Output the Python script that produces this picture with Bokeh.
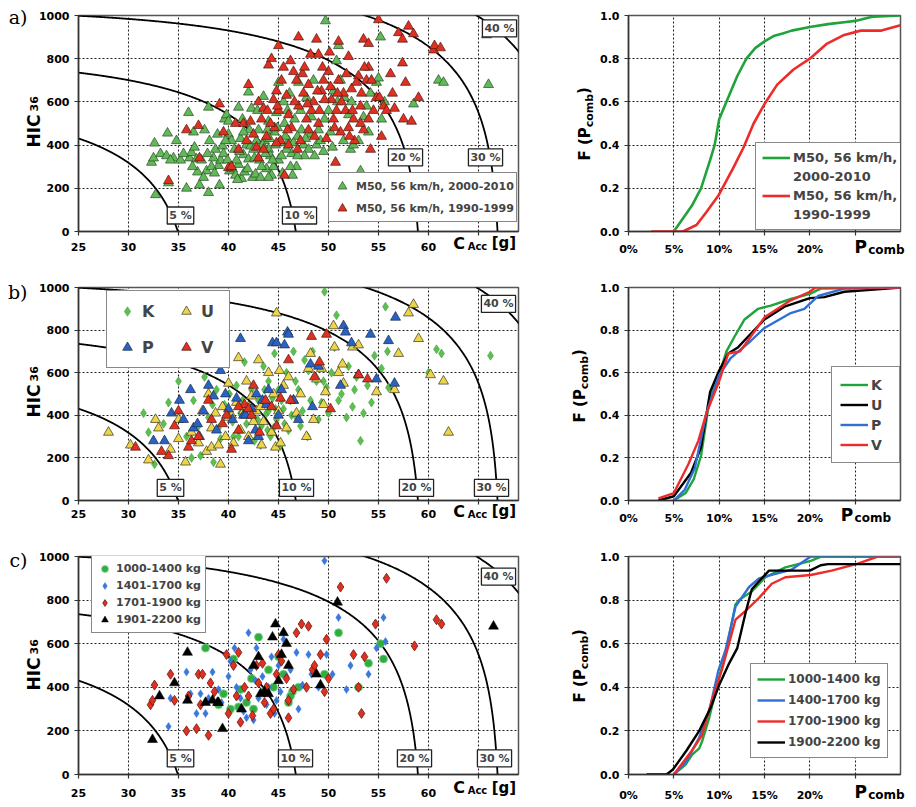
import math
import numpy as np
from bokeh.plotting import figure
from bokeh.layouts import column, row
from bokeh.models import Legend, LegendItem, FixedTicker, Range1d, NumeralTickFormatter, LinearAxis, Label
from bokeh.embed import file_html
from bokeh.resources import INLINE

FONT = "DejaVu Sans"

# ---------------- iso-risk model (combined head/chest risk) ----------------
CHEST_A, CHEST_B = 5.484, 0.069
HEAD_A, HEAD_B = 5.103, 0.0036
ISO_LEVELS = [0.05, 0.10, 0.20, 0.30, 0.40]
ISO_LABELS = ["5 %", "10 %", "20 %", "30 %", "40 %"]
ISO_LABEL_POS_A = [(35.2, 74), (47.1, 74), (57.7, 343), (65.7, 343), (67.1, 940)]
ISO_LABEL_POS_B = [(34.2, 59), (46.8, 59), (58.8, 59), (66.3, 59), (67.0, 923)]
ISO_LABEL_POS_C = [(35.2, 74), (46.7, 74), (58.6, 74), (66.6, 74), (67.0, 908)]

# ---------------- panel a: scatter ----------------
A_2000_2010 = [(32.6,409),(32.3,320),(32.5,340),(33.2,360),(33.8,350),(34.5,340),(33.9,455),(34.8,420),
    (32.7,170),(34.0,225),(35.8,200),(36.0,550),(36.1,340),(36.3,365),(36.8,335),(36.9,275),(37.1,215),
    (37.6,470),(38.0,575),(37.8,280),(38.1,420),(38.0,180),(38.7,380),(39.0,305),(39.1,215),(39.2,330),
    (39.6,520),(39.8,540),(40.0,510),(40.0,450),(40.1,280),(40.4,290),(40.6,380),(41.0,575),(41.0,310),
    (41.3,245),(41.5,355),(41.8,400),(42.0,335),(42.0,645),(42.3,570),(42.4,250),(42.7,265),(42.8,420),
    (43.0,470),(43.1,330),(43.5,625),(43.6,420),(43.8,290),(44.0,510),(44.0,380),(44.3,260),(44.5,300),
    (44.6,460),(44.8,550),(45.0,690),(45.0,330),(45.2,410),(45.4,270),(45.5,600),(45.6,500),(46.0,420),
    (46.1,640),(46.3,360),(46.6,520),(46.8,300),(47.0,690),(47.3,470),(47.5,400),(47.8,620),(48.0,380),
    (48.2,450),(48.5,700),(48.8,400),(49.0,470),(49.5,370),(49.7,975),(50.0,560),(50.2,460),(50.5,650),
    (50.8,790),(51.0,860),(51.2,700),(51.5,420),(52.0,540),(52.2,380),(52.5,400),(53.0,420),(53.2,280),
    (53.5,530),(54.0,460),(54.2,640),(54.8,690),(55.0,710),(55.2,900),(55.6,600),(55.3,520),(58.5,590),
    (61.0,700),(61.5,690),(66.0,680),(38.5,340),(39.4,395),(40.8,330),(41.6,275),(42.2,395),(43.3,300),
    (44.2,350),(45.8,380),(46.9,440),(47.6,350),(41.2,430),(37.3,330),(35.2,330),(36.5,460),
    (36.6,390),(37.9,360),(38.3,300),(38.9,450),(39.5,360),(39.9,330),(40.3,420),(40.7,260),(41.1,370),
    (41.4,520),(41.9,290),(42.1,470),(42.6,340),(42.9,560),(43.2,250),(43.4,400),(43.7,360),(44.1,430),
    (44.4,330),(44.9,480),(45.3,350),(45.7,440),(46.2,300),(46.5,410),(46.9,350),(47.2,560),(47.7,430),
    (48.3,530),(48.6,350),(49.2,420),(49.6,520),(50.4,390),(50.9,600),(51.6,620),(52.3,600),(53.8,580),
    (42.5,380),(43.9,470),(45.9,560),(44.7,400),(41.5,460),(39.7,420),(38.6,270),(36.4,300),(34.2,330),
    (35.5,360),(37.5,250),(40.9,240),(44.0,250),(46.4,260)]
A_1990_1999 = [(34.0,235),(35.8,470),(37.0,490),(37.1,340),(39.1,590),(39.5,460),(40.0,295),(40.3,300),
    (40.7,500),(41.5,500),(41.8,420),(42.0,680),(42.5,450),(42.8,390),(43.0,600),(43.3,520),(43.5,570),
    (43.8,440),(44.0,770),(44.3,800),(44.5,610),(44.6,480),(44.8,650),(45.0,860),(45.0,560),(45.2,420),
    (45.5,760),(45.6,260),(45.8,630),(46.0,540),(46.3,480),(46.5,740),(46.8,700),(47.0,900),(47.0,580),
    (47.2,420),(47.5,640),(47.8,520),(48.0,680),(48.2,820),(48.3,560),(48.5,600),(48.8,890),(49.0,820),
    (49.0,500),(49.3,650),(49.5,700),(49.8,430),(50.0,740),(50.1,830),(50.3,610),(50.5,520),(50.7,320),
    (51.0,880),(51.0,700),(51.2,460),(51.5,640),(51.7,560),(52.0,810),(52.0,480),(52.3,660),(52.6,420),
    (53.0,720),(53.2,580),(53.5,890),(53.8,700),(54.0,870),(54.0,760),(54.0,520),(54.2,380),(54.5,560),
    (54.8,620),(55.0,980),(55.3,440),(55.5,580),(56.4,640),(56.6,570),(57.0,920),(57.4,890),(57.4,780),
    (57.7,690),(57.5,520),(58.0,950),(58.3,510),(58.5,915),(59.0,620),(60.5,840),(60.6,860),(61.2,850),
    (65.8,910),(43.5,380),(44.2,500),(46.0,400),(48.0,470),(50.8,560),(52.5,520),(53.5,470),
    (41.0,380),(42.2,510),(43.0,340),(43.9,560),(44.8,410),(45.3,700),(45.9,470),(46.6,600),(46.9,380),
    (47.4,730),(47.9,590),(48.6,440),(49.1,560),(49.6,610),(50.2,670),(50.6,480),(51.3,600),(51.8,730),
    (52.4,560),(52.8,690),(53.3,640),(53.6,760),(54.3,700),(55.1,620),(55.8,560),(56.2,730),(49.4,760),
    (47.6,760),(46.2,790),(44.9,580),(48.9,650),(50.9,640),(52.1,440),(53.2,500)]

# ---------------- panel b: scatter ----------------
B_K = [(31.5,410),(32.0,320),(32.6,170),(33.5,360),(34.0,460),(35.0,560),(36.3,200),(36.5,470),(37.2,210),
    (37.6,580),(38.0,390),(38.5,180),(38.8,520),(39.2,290),(39.6,450),(40.1,500),(40.5,300),(40.8,540),
    (41.2,410),(41.6,650),(41.8,360),(42.0,440),(42.3,520),(42.6,280),(43.0,470),(43.3,350),(43.5,630),
    (43.8,410),(44.0,560),(44.2,300),(44.4,480),(44.6,690),(44.8,380),(45.0,520),(45.2,260),(45.5,430),
    (45.8,600),(46.0,330),(46.2,470),(46.5,700),(46.8,390),(47.0,520),(47.4,420),(47.6,660),(47.9,300),
    (48.2,470),(48.4,700),(48.8,560),(49.0,380),(49.3,460),(49.6,980),(49.8,530),(50.3,600),(50.6,720),
    (50.8,870),(51.3,500),(51.8,390),(52.0,630),(52.4,440),(52.8,580),(53.2,280),(53.5,410),(53.9,540),
    (54.3,460),(54.6,680),(55.3,620),(55.7,910),(55.9,700),(56.0,530),(60.0,600),(60.8,710),(61.3,690),
    (66.2,680),(44.0,420),(42.4,390),(41.4,470),(43.9,330),(46.7,560),(45.6,360),(40.4,370),(39.0,340),
    (48.0,610),(50.0,410),(51.0,470),(41.0,300),(42.9,380),(44.5,340),(45.3,470),(46.3,400),(43.6,520),
    (40.0,420),(38.4,450),(47.2,350),(49.5,560),(52.6,520),(37.0,350),(35.8,300),(43.2,260),(44.7,430)]
B_U = [(28.0,320),(30.2,260),(32.0,190),(32.7,380),(33.0,340),(34.2,240),(35.0,290),(35.0,380),(35.7,180),
    (36.3,320),(37.0,270),(37.4,420),(37.8,230),(38.0,500),(38.3,250),(38.7,410),(39.0,260),(39.2,170),
    (39.4,440),(39.7,300),(40.0,550),(40.3,400),(40.5,270),(40.8,460),(41.0,670),(41.2,330),(41.5,420),
    (41.8,560),(42.0,300),(42.3,490),(42.5,370),(42.8,420),(43.0,660),(43.3,260),(43.5,370),(43.8,460),
    (44.0,600),(44.3,320),(44.5,500),(44.7,250),(44.8,880),(45.0,420),(45.1,610),(45.2,270),(45.5,540),
    (45.8,340),(46.0,580),(46.5,470),(46.8,410),(47.2,500),(47.8,300),(48.0,620),(48.2,690),(48.5,380),
    (48.8,570),(49.3,620),(49.5,450),(49.7,510),(50.5,820),(50.6,720),(51.0,600),(51.4,640),(51.5,550),
    (52.4,720),(53.0,730),(54.8,510),(56.6,520),(57.0,690),(58.0,880),(58.5,920),(59.0,760),(60.2,590),
    (61.5,560),(62.0,320),(42.0,440),(43.2,440),(40.0,390),(38.3,340)]
B_P = [(32.5,280),(33.6,280),(34.3,410),(35.1,470),(35.5,380),(36.2,520),(36.5,340),(36.9,360),(37.1,300),
    (37.5,420),(38.0,540),(38.5,490),(38.8,330),(39.2,610),(39.7,500),(40.0,430),(40.4,380),(40.8,480),
    (41.2,760),(41.5,400),(42.0,280),(42.3,430),(42.8,500),(43.0,300),(43.4,470),(43.8,450),(44.0,520),
    (44.4,740),(44.8,740),(45.0,400),(45.3,520),(45.6,730),(45.9,790),(46.0,780),(46.5,470),(47.0,380),
    (48.2,640),(48.4,440),(49.0,630),(51.2,540),(51.5,820),(51.7,790),(52.3,740),(53.0,590),(54.2,780),
    (54.8,570),(56.0,750),(56.6,550),(56.7,860),(41.7,400),(42.7,330)]
B_V = [(30.7,250),(33.3,230),(34.0,210),(34.6,350),(35.0,420),(36.0,250),(36.3,280),(37.0,300),(38.0,470),
    (38.3,380),(39.0,640),(39.4,360),(40.3,240),(41.0,330),(41.6,450),(42.0,430),(42.3,400),(42.5,540),
    (43.1,320),(43.7,470),(44.3,440),(44.8,350),(45.2,480),(46.0,660),(46.2,470),(48.3,770),(48.6,580),
    (49.1,650),(49.8,780),(50.2,430),(53.0,590),(53.9,570),(41.0,440),(39.8,400)]

# ---------------- panel c: scatter ----------------
C_1000_1400 = [(37.7,580),(39.0,320),(39.5,370),(40.2,300),(40.5,530),(41.2,390),(41.8,330),(42.3,440),
    (42.5,300),(43.0,630),(43.5,380),(44.0,480),(44.5,400),(45.0,540),(45.5,460),(46.0,330),(46.4,380),
    (46.2,360),(47.0,400),(49.6,460),(51.0,650),(53.0,400),(54.0,510),(55.5,530),(55.2,600),(41.0,310)]
C_1401_1700 = [(34.0,220),(34.2,350),(35.8,470),(36.2,370),(36.8,280),(37.2,370),(37.7,280),(38.0,350),
    (39.0,390),(39.3,330),(40.0,450),(40.2,520),(40.6,580),(40.8,400),(41.2,350),(41.5,290),(41.8,260),
    (42.0,650),(42.2,480),(42.5,250),(42.8,580),(43.0,350),(43.4,450),(43.8,320),(44.0,400),(44.3,540),
    (44.6,280),(45.0,500),(45.2,380),(45.5,620),(45.8,450),(46.2,480),(46.8,560),(47.0,300),(47.4,410),
    (48.0,550),(48.3,460),(49.0,400),(49.6,980),(49.8,550),(50.4,460),(51.0,720),(51.8,390),(52.2,500),
    (54.0,460),(55.5,720),(54.8,580),(55.7,610),(42.7,430),(44.8,340),(38.4,470)]
C_1701_1900 = [(32.2,320),(32.4,340),(32.6,410),(34.2,460),(34.6,340),(35.8,200),(36.0,360),(36.8,210),
    (37.0,460),(37.4,460),(37.2,320),(38.0,180),(38.2,420),(38.6,380),(39.8,550),(40.0,280),(40.5,500),
    (40.8,360),(41.2,240),(41.6,400),(42.0,360),(42.4,270),(42.8,500),(43.0,420),(43.4,510),(43.8,400),
    (44.2,280),(44.5,300),(44.8,460),(45.0,550),(45.3,520),(45.8,440),(46.0,260),(46.0,340),(46.5,390),
    (46.8,650),(47.3,690),(47.8,400),(48.0,680),(48.4,480),(48.6,500),(49.2,550),(49.6,380),(49.8,620),
    (50.0,440),(51.2,860),(52.5,550),(53.0,400),(53.3,280),(53.6,540),(54.7,690),(55.8,900),(58.6,590),
    (60.8,710),(61.3,690),(41.0,560),(43.6,330)]
C_1901_2200 = [(32.4,160),(33.1,360),(34.6,420),(35.9,560),(35.9,340),(37.7,330),(38.4,340),(38.9,330),
    (39.4,210),(41.3,300),(42.5,500),(43.0,540),(43.2,370),(43.6,380),(44.0,370),(44.4,630),(44.7,690),
    (45.0,430),(45.3,550),(45.5,650),(45.8,600),(46.0,500),(48.8,460),(49.2,410),(50.9,790),(66.5,680),
    (39.0,330)]

# ---------------- CDF curves (P_comb in %, F) ----------------
CDF_A_NEW_X = [5, 6, 7, 8, 9, 9.5, 10, 11, 12, 13, 14, 15, 16, 17, 18, 20, 22, 24, 25, 26, 27, 30]
CDF_A_NEW_Y = [0, 0.06, 0.12, 0.2, 0.33, 0.4, 0.52, 0.62, 0.72, 0.80, 0.85, 0.88, 0.905, 0.917, 0.93,
               0.947, 0.96, 0.97, 0.975, 0.985, 0.995, 1.0]
CDF_A_OLD_X = [2.5, 6, 7.5, 8.6, 9.9, 11.5, 12.7, 13.8, 15, 16.4, 18.2, 20, 21.9, 23.8, 25.6, 27.9, 30]
CDF_A_OLD_Y = [0, 0, 0.03, 0.09, 0.165, 0.29, 0.39, 0.5, 0.59, 0.68, 0.75, 0.80, 0.87, 0.91, 0.93, 0.93, 0.955]

CDF_B_K_X = [5, 6.3, 7.2, 8.0, 8.96, 10, 10.8, 11.7, 12.8, 14.3, 15.7, 17.9, 20, 21.2, 30]
CDF_B_K_Y = [0, 0.035, 0.1, 0.21, 0.48, 0.59, 0.70, 0.77, 0.85, 0.90, 0.915, 0.946, 0.97, 0.995, 1.0]
CDF_B_U_X = [3.3, 5, 6.9, 8.0, 9, 10, 11, 12.1, 13.2, 15, 17.2, 20, 21.6, 23.8, 27.1, 30]
CDF_B_U_Y = [0, 0.02, 0.13, 0.25, 0.51, 0.61, 0.69, 0.72, 0.77, 0.85, 0.91, 0.95, 0.955, 0.98, 0.99, 1.0]
CDF_B_P_X = [5, 6.2, 7.3, 8.6, 10, 11.3, 13.5, 15, 17.9, 19.4, 20.9, 23.8, 30]
CDF_B_P_Y = [0, 0.05, 0.15, 0.41, 0.59, 0.67, 0.75, 0.81, 0.88, 0.90, 0.96, 0.995, 1.0]
CDF_B_V_X = [3.3, 5, 6.6, 7.7, 8.6, 10, 11, 12.3, 13.5, 15, 17.9, 20, 20.6, 30]
CDF_B_V_Y = [0.01, 0.035, 0.17, 0.28, 0.41, 0.56, 0.69, 0.70, 0.77, 0.86, 0.94, 0.98, 1.0, 1.0]

CDF_C_1_X = [5, 6.3, 7.0, 7.8, 8.1, 8.9, 9.9, 10.7, 11.8, 12.2, 13.6, 15.1, 17.3, 20.1, 21.3, 30]
CDF_C_1_Y = [0, 0.046, 0.09, 0.12, 0.15, 0.26, 0.43, 0.55, 0.78, 0.80, 0.84, 0.905, 0.95, 0.98, 1.0, 1.0]
CDF_C_2_X = [5, 6.4, 7.8, 8.9, 9.9, 10.7, 11.8, 13.3, 14.4, 16.2, 18, 20.1, 30]
CDF_C_2_Y = [0, 0.06, 0.17, 0.29, 0.475, 0.57, 0.77, 0.86, 0.90, 0.92, 0.94, 1.0, 1.0]
CDF_C_3_X = [5, 7.0, 8.1, 9.2, 10.3, 11.8, 12.9, 14.4, 15.8, 17.3, 20.1, 22.4, 25.3, 27.5, 30]
CDF_C_3_Y = [0, 0.11, 0.18, 0.34, 0.48, 0.71, 0.75, 0.81, 0.875, 0.905, 0.915, 0.935, 0.967, 1.0, 1.0]
CDF_C_4_X = [2.0, 4.2, 4.9, 6.4, 7.8, 9.1, 10, 11.1, 12, 12.9, 13.6, 14.7, 15.5, 18, 20, 21.2, 22, 30]
CDF_C_4_Y = [0, 0, 0.023, 0.11, 0.2, 0.31, 0.41, 0.51, 0.58, 0.74, 0.85, 0.90, 0.935, 0.935, 0.935,
             0.96, 0.965, 0.965]

X_TICKS_L = [25, 30, 35, 40, 45, 50, 55, 60, 65]
Y_TICKS_L = [0, 200, 400, 600, 800, 1000]
X_TICKS_R = [0, 5, 10, 15, 20, 25]
X_TICK_LABELS_R = {0: "0%", 5: "5%", 10: "10%", 15: "15%", 20: "20%", 25: ""}
Y_TICKS_R = [0, 0.2, 0.4, 0.6, 0.8, 1.0]

GREEN_T = "#62b957"
RED_T = "#e0301f"
YELLOW_T = "#ecd54a"
BLUE_T = "#2a62c4"


def EXT(size):
    # side-panel extent Bokeh gives a one-line label (font height + 3px padding)
    return 1.164 * size + 3


def style(p, x_standoff):
    p.background_fill_color = "white"
    p.border_fill_color = "white"
    p.outline_line_color = "#555555"
    p.outline_line_width = 1.5
    for ax in (p.xaxis[0], p.yaxis[0]):
        ax.major_label_text_font = FONT
        ax.major_label_text_font_style = "bold"
        ax.major_label_text_font_size = "11px"
        ax.major_label_text_color = "black"
        ax.axis_line_color = "#333333"
        ax.axis_line_width = 1.5
        ax.major_tick_line_color = "#333333"
        ax.major_tick_line_width = 1.2
        ax.major_tick_out = 4
        ax.major_tick_in = 0
        ax.minor_tick_line_color = None
    p.xaxis[0].major_label_standoff = x_standoff
    p.yaxis[0].major_label_standoff = 5
    for g in (p.xgrid[0], p.ygrid[0]):
        g.grid_line_color = "#222222"
        g.grid_line_dash = "2 2"
        g.grid_line_width = 1.1


def stack_texts(p, side, base, pieces):
    """Label-only axes stacked in a side panel; negative standoffs pull each text back
    to the wanted distance d (px from the frame) so titles sit beside the tick labels."""
    pos = base
    for tick, txt, size, d, orient, font, fstyle, ext in sorted(pieces, key=lambda q: q[3] + q[7]):
        s = int(round(d - pos))
        ax = LinearAxis(ticker=FixedTicker(ticks=[tick]), major_label_overrides={tick: txt},
                        major_label_text_font=font, major_label_text_font_style=fstyle,
                        major_label_text_font_size=f"{size}px", major_label_text_color="black",
                        major_label_standoff=s, major_label_orientation=orient,
                        axis_line_color=None, major_tick_line_color=None, minor_tick_line_color=None,
                        major_tick_out=0, major_tick_in=0)
        p.add_layout(ax, side)
        pos += max(0, round(s + ext))


def iso_curve(P):
    ph0 = 1.0 / (1.0 + math.exp(HEAD_A))
    pc0 = 1.0 - (1.0 - P) / (1.0 - ph0)
    c0 = (CHEST_A + math.log(pc0 / (1.0 - pc0))) / CHEST_B
    cs = np.linspace(25.0, c0, 400)
    pc = 1.0 / (1.0 + np.exp(CHEST_A - CHEST_B * cs))
    ph = 1.0 - (1.0 - P) / (1.0 - pc)
    ph = np.clip(ph, ph0, 0.999999)
    hic = (HEAD_A + np.log(ph / (1.0 - ph))) / HEAD_B
    return cs, hic


def left_fig(height, top, bottom, label_pos, letter, letter_y, hic_ys, x_standoff, c_box):
    p = figure(width=560, height=height, x_range=Range1d(25, 69), y_range=Range1d(0, 1000),
               output_backend="svg", toolbar_location=None, min_border_left=78, min_border_right=42,
               min_border_top=top, min_border_bottom=bottom)
    style(p, x_standoff)
    p.xaxis.ticker = FixedTicker(ticks=X_TICKS_L)
    p.xaxis.major_label_overrides = {65: ""}
    p.yaxis.ticker = FixedTicker(ticks=Y_TICKS_L)
    p.xgrid.ticker = FixedTicker(ticks=X_TICKS_L)
    p.ygrid.ticker = FixedTicker(ticks=Y_TICKS_L)
    for P in ISO_LEVELS:
        cs, hic = iso_curve(P)
        p.line(cs, hic, line_color="black", line_width=1.8)
    for (lx, ly), txt in zip(label_pos, ISO_LABELS):
        p.add_layout(Label(x=lx, y=ly, text=txt, text_font=FONT, text_font_style="bold",
                           text_font_size="11px", text_align="center", text_baseline="middle",
                           background_fill_color="white", border_line_color="#222222",
                           border_line_width=1.3, padding=2, level="overlay"))
    # y title (HIC 36) and panel letter
    stack_texts(p, "left", 42.6, [
        (hic_ys[1], "36", 11, 40, "vertical", FONT, "bold", EXT(11)),
        (hic_ys[0], "HIC", 17, 39, "vertical", FONT, "bold", EXT(17)),
        (letter_y, letter, 19, 56, "horizontal", "DejaVu Serif", "normal", 21.7),
    ])
    # x title: C_Acc [g]
    stack_texts(p, "below", 19.8 + x_standoff, [
        (63.05, "C", 16, c_box, "horizontal", FONT, "bold", EXT(16)),
        (64.9, "Acc", 10, c_box + 7, "horizontal", FONT, "bold", EXT(10)),
        (67.55, "[g]", 15, c_box + 1, "horizontal", FONT, "bold", EXT(15)),
    ])
    return p


def right_fig(height, top, bottom, x_standoff, p_x, p_box, f_ys, d_f):
    p = figure(width=350, height=height, x_range=Range1d(0, 30), y_range=Range1d(0, 1.0),
               output_backend="svg", toolbar_location=None, min_border_left=68, min_border_right=10,
               min_border_top=top, min_border_bottom=bottom)
    style(p, x_standoff)
    p.xaxis.ticker = FixedTicker(ticks=X_TICKS_R)
    p.xaxis.major_label_overrides = X_TICK_LABELS_R
    p.yaxis.ticker = FixedTicker(ticks=Y_TICKS_R)
    p.yaxis.formatter = NumeralTickFormatter(format="0.0")
    p.xgrid.ticker = FixedTicker(ticks=X_TICKS_R)
    p.ygrid.ticker = FixedTicker(ticks=Y_TICKS_R)
    # y title: F (P_comb)
    stack_texts(p, "left", 31.5, [
        (f_ys[1], "comb", 11, d_f - 2.5, "vertical", FONT, "bold", EXT(11)),
        (f_ys[0], "F (P", 15, d_f, "vertical", FONT, "bold", EXT(15)),
        (f_ys[2], ")", 15, d_f, "vertical", FONT, "bold", EXT(15)),
    ])
    # x title: P_comb
    stack_texts(p, "below", 19.8 + x_standoff, [
        (p_x[0], "P", 17, p_box, "horizontal", FONT, "bold", EXT(17)),
        (p_x[1], "comb", 12, p_box + 6, "horizontal", FONT, "bold", EXT(12)),
    ])
    return p


def xs(pts):
    return [a for a, b in pts]


def ys(pts):
    return [b for a, b in pts]


def leg_style(lg, font_size, glyph_w, glyph_h, label_h, spacing, padding):
    lg.label_text_font = FONT
    lg.label_text_font_style = "bold"
    lg.label_text_font_size = font_size
    lg.glyph_width = glyph_w
    lg.glyph_height = glyph_h
    lg.label_height = label_h
    lg.spacing = spacing
    lg.padding = padding
    lg.margin = 0
    lg.label_standoff = 3
    lg.border_line_color = "#111111"
    lg.border_line_width = 1.6
    lg.background_fill_alpha = 1.0


# ---------------- row a (frame 15..231) ----------------
pa = left_fig(260, 15, 29, ISO_LABEL_POS_A, "a)", 995, (465, 591), 7, 6)
r_new = pa.scatter(xs(A_2000_2010), ys(A_2000_2010), marker="triangle", size=10,
                   fill_color=GREEN_T, line_color="#2b4a2b", line_width=0.7)
r_old = pa.scatter(xs(A_1990_1999), ys(A_1990_1999), marker="triangle", size=10,
                   fill_color=RED_T, line_color="#4a1a14", line_width=0.7)
lg = Legend(items=[LegendItem(label="M50, 56 km/h, 2000-2010", renderers=[r_new]),
                   LegendItem(label="M50, 56 km/h, 1990-1999", renderers=[r_old])],
            location=(250, 9))
leg_style(lg, "11px", 22, 22, 22, 0, 2)
pa.add_layout(lg)

qa = right_fig(260, 15, 29, 7, (25.6, 28.45), 5, (0.406, 0.560, 0.653), 35)
l1 = qa.line(CDF_A_NEW_X, CDF_A_NEW_Y, line_color="#1fa33a", line_width=2.6)
l2 = qa.line(CDF_A_OLD_X, CDF_A_OLD_Y, line_color="#ee2b2b", line_width=2.6)
blank_a = qa.line([], [], line_alpha=0)
lg = Legend(items=[LegendItem(label="M50, 56 km/h,", renderers=[l1]),
                   LegendItem(label="2000-2010", renderers=[blank_a]),
                   LegendItem(label="M50, 56 km/h,", renderers=[l2]),
                   LegendItem(label="1990-1999", renderers=[blank_a])],
            location=(127, 1))
leg_style(lg, "13px", 28, 17, 17, 2, 6)
qa.add_layout(lg)

# ---------------- row b (frame 287..500) ----------------
pb = left_fig(268, 27, 28, ISO_LABEL_POS_B, "b)", 977, (467, 595), 5, 5)
rk = pb.scatter(xs(B_K), ys(B_K), marker="diamond", size=9, fill_color="#5cbf4f",
                line_color="#3d9a3a", line_width=0.5)
ru = pb.scatter(xs(B_U), ys(B_U), marker="triangle", size=10, fill_color=YELLOW_T,
                line_color="#3a3320", line_width=0.7)
rp = pb.scatter(xs(B_P), ys(B_P), marker="triangle", size=10, fill_color=BLUE_T,
                line_color="#1a2a4a", line_width=0.7)
rv = pb.scatter(xs(B_V), ys(B_V), marker="triangle", size=10, fill_color=RED_T,
                line_color="#4a1a14", line_width=0.7)
lg = Legend(items=[LegendItem(label="K", renderers=[rk]), LegendItem(label="P", renderers=[rp]),
                   LegendItem(label="U", renderers=[ru]), LegendItem(label="V", renderers=[rv])],
            location=(28, 132), orientation="vertical", nrows=2)
leg_style(lg, "16px", 24, 24, 24, 12, 8)
pb.add_layout(lg)

qb = right_fig(268, 27, 28, 7, (24.1, 26.95), 4, (0.445, 0.601, 0.695), 40)
k1 = qb.line(CDF_B_K_X, CDF_B_K_Y, line_color="#1fa33a", line_width=2.4)
k2 = qb.line(CDF_B_U_X, CDF_B_U_Y, line_color="black", line_width=2.4)
k3 = qb.line(CDF_B_P_X, CDF_B_P_Y, line_color="#2f6fd6", line_width=2.4)
k4 = qb.line(CDF_B_V_X, CDF_B_V_Y, line_color="#ee2b2b", line_width=2.4)
lg = Legend(items=[LegendItem(label="K", renderers=[k1]), LegendItem(label="U", renderers=[k2]),
                   LegendItem(label="P", renderers=[k3]), LegendItem(label="V", renderers=[k4])],
            location=(203, 37))
leg_style(lg, "14px", 28, 19, 19, 1, 8)
qb.add_layout(lg)

# ---------------- row c (frame 556..774) ----------------
pc = left_fig(277, 28, 31, ISO_LABEL_POS_C, "c)", 982, (461, 586), 10, 8)
c1 = pc.scatter(xs(C_1000_1400), ys(C_1000_1400), marker="circle", size=8, fill_color="#2fae3f",
                line_color="#7fd08a", line_width=0.8)
c2 = pc.scatter(xs(C_1401_1700), ys(C_1401_1700), marker="diamond", size=8, fill_color="#3a78dc",
                line_color="#3a78dc", line_width=0.5)
c3 = pc.scatter(xs(C_1701_1900), ys(C_1701_1900), marker="diamond", size=10, fill_color="#e0301f",
                line_color="#6a1a14", line_width=0.8)
c4 = pc.scatter(xs(C_1901_2200), ys(C_1901_2200), marker="triangle", size=10, fill_color="black",
                line_color="black", line_width=0.5)
lg = Legend(items=[LegendItem(label="1000-1400 kg", renderers=[c1]),
                   LegendItem(label="1401-1700 kg", renderers=[c2]),
                   LegendItem(label="1701-1900 kg", renderers=[c3]),
                   LegendItem(label="1901-2200 kg", renderers=[c4])],
            location=(13, 141))
leg_style(lg, "11px", 17, 17, 17, 0, 4)
pc.add_layout(lg)

qc = right_fig(277, 28, 31, 10, (25.6, 28.45), 7, (0.407, 0.560, 0.651), 40)
m1 = qc.line(CDF_C_1_X, CDF_C_1_Y, line_color="#1fa33a", line_width=2.4)
m2 = qc.line(CDF_C_2_X, CDF_C_2_Y, line_color="#2f6fd6", line_width=2.4)
m3 = qc.line(CDF_C_3_X, CDF_C_3_Y, line_color="#ee2b2b", line_width=2.4)
m4 = qc.line(CDF_C_4_X, CDF_C_4_Y, line_color="black", line_width=2.4)
lg = Legend(items=[LegendItem(label="1000-1400 kg", renderers=[m1]),
                   LegendItem(label="1400-1700 kg", renderers=[m2]),
                   LegendItem(label="1700-1900 kg", renderers=[m3]),
                   LegendItem(label="1900-2200 kg", renderers=[m4])],
            location=(122, 16))
leg_style(lg, "12px", 28, 18, 18, 3, 6)
qc.add_layout(lg)

layout = column(row(pa, qa), row(pb, qb), row(pc, qc))
open("out.html", "w").write(file_html(layout, INLINE))
